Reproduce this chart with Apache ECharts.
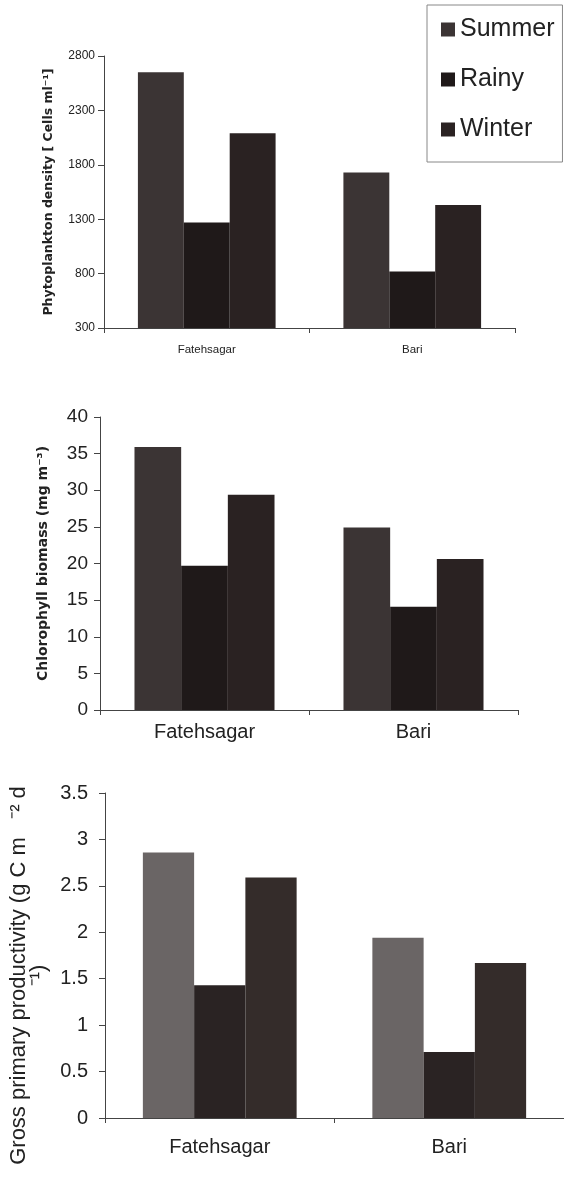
<!DOCTYPE html>
<html lang="en">
<head>
    <meta charset="UTF-8">
    <title>Fatehsagar / Bari seasonal charts</title>
    <script type="text/javascript" src="https://cdn.jsdelivr.net/npm/echarts@6/dist/echarts.min.js"></script>
    <style>
        html, body { margin: 0; padding: 0; background: #fff; }
    </style>
</head>
<body>

<div id="myChart" style="width: 564px;height: 1189px;"></div>

<script type="text/javascript">

    // 数据
    var categories = ['Fatehsagar', 'Bari'];
    var seasons = ['Summer', 'Rainy', 'Winter'];

    var phytoSummer = [2650, 1730];
    var phytoRainy = [1270, 820];
    var phytoWinter = [2090, 1430];

    var chloroSummer = [35.9, 24.9];
    var chloroRainy = [19.7, 14.1];
    var chloroWinter = [29.4, 20.6];

    var gppSummer = [2.86, 1.94];
    var gppRainy = [1.43, 0.71];
    var gppWinter = [2.59, 1.67];

    var myChart = echarts.init(document.getElementById('myChart'));

    var font = 'Liberation Sans, Arial, sans-serif';
    var axisLine = { lineStyle: { color: '#444', width: 1 } };

    function xAx(idx, size, margin) {
        return {
            type: 'category', gridIndex: idx, data: categories,
            axisLine: axisLine,
            axisTick: { show: true, length: 5, lineStyle: { color: '#444' } },
            axisLabel: { fontSize: size, color: '#222', fontFamily: font, margin: margin }
        };
    }

    function yAx(idx, min, max, interval, size, margin, name, nameStyle, nameGap) {
        return {
            type: 'value', gridIndex: idx, min: min, max: max, interval: interval,
            axisLine: { show: true, lineStyle: { color: '#444', width: 1 } },
            axisTick: { show: true, length: 6, lineStyle: { color: '#444' } },
            splitLine: { show: false },
            axisLabel: {
                fontSize: size, color: '#222', fontFamily: font, margin: margin,
                formatter: function (v) { return String(v); }
            },
            name: name, nameLocation: 'middle', nameRotate: 90, nameGap: nameGap,
            nameMoveOverlap: false,
            nameTextStyle: nameStyle
        };
    }

    function bar(name, idx, data, color) {
        return {
            name: name, type: 'bar', xAxisIndex: idx, yAxisIndex: idx, data: data,
            barGap: '0%', barCategoryGap: '33%',
            itemStyle: { color: color },
            clip: true
        };
    }

    myChart.setOption({
        backgroundColor: '#fff',
        animation: false,
        legend: {
            data: seasons,
            orient: 'vertical',
            left: 427, top: 5,
            padding: [10, 8, 18, 14],
            itemGap: 21,
            itemWidth: 14, itemHeight: 14,
            borderColor: '#888', borderWidth: 1,
            icon: 'rect',
            textStyle: { fontSize: 25, color: '#222', fontFamily: font, lineHeight: 29 }
        },
        grid: [
            { left: 104, right: 49, top: 56, height: 272, outerBoundsMode: 'none' },
            { left: 100, right: 46, top: 417, height: 293, outerBoundsMode: 'none' },
            { left: 105, right: 0, top: 793, height: 325, outerBoundsMode: 'none' }
        ],
        xAxis: [
            xAx(0, 11.5, 16),
            xAx(1, 20, 12),
            xAx(2, 20, 19)
        ],
        yAxis: [
            yAx(0, 300, 2800, 500, 12, 9, 'Phytoplankton density [ Cells ml\u207B\u00B9]',
                { fontSize: 12.5, fontWeight: 'bold', fontFamily: 'DejaVu Sans, sans-serif', color: '#222' }, 49),
            yAx(1, 0, 40, 5, 19, 12, 'Chlorophyll biomass (mg m\u207B\u00B3)',
                { fontSize: 14, fontWeight: 'bold', fontFamily: 'DejaVu Sans, sans-serif', color: '#222' }, 50),
            yAx(2, 0, 3.5, 0.5, 20, 17, 'Gross primary productivity (g C m   \u207B\u00B2 d\n\u207B\u00B9)',
                { fontSize: 22, fontFamily: font, color: '#222', lineHeight: 20, padding: [0, 40, 0, 0] }, 56)
        ],
        series: [
            bar('Summer', 0, phytoSummer, '#3b3434'),
            bar('Rainy', 0, phytoRainy, '#1f1919'),
            bar('Winter', 0, phytoWinter, '#2a2222'),
            bar('Summer', 1, chloroSummer, '#3b3434'),
            bar('Rainy', 1, chloroRainy, '#1f1919'),
            bar('Winter', 1, chloroWinter, '#2a2222'),
            bar('Summer', 2, gppSummer, '#6a6565'),
            bar('Rainy', 2, gppRainy, '#2a2323'),
            bar('Winter', 2, gppWinter, '#342c2a')
        ]
    });

</script>
</body>
</html>
